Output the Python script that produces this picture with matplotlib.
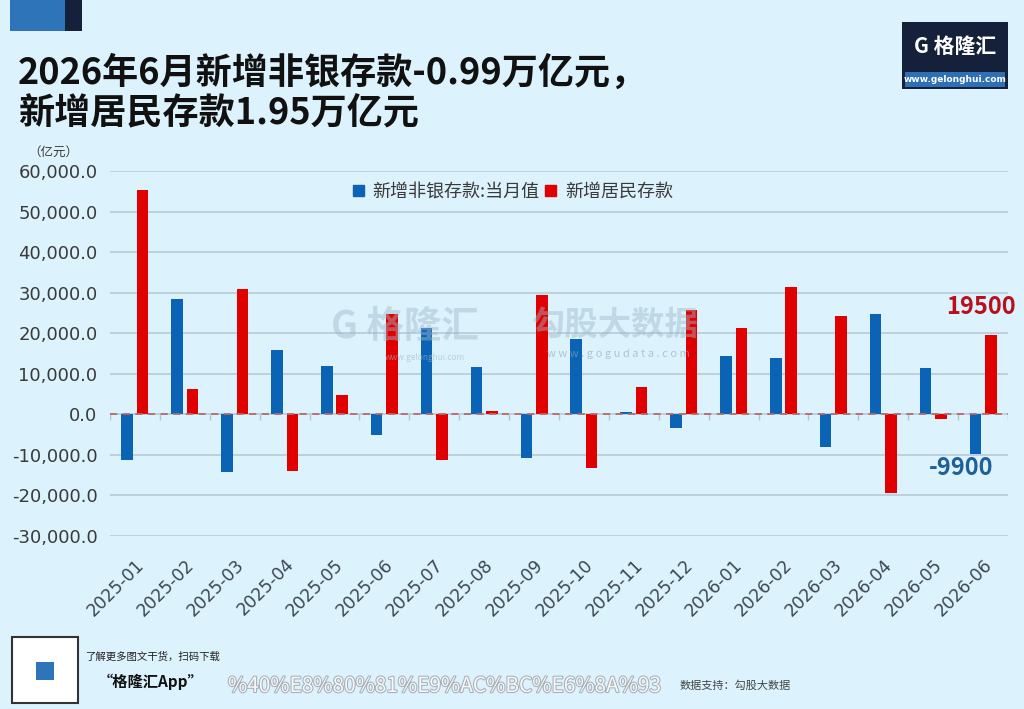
import numpy as np
import matplotlib.pyplot as plt
from matplotlib.patches import Patch, Rectangle
import matplotlib.patheffects as pe

plt.rcParams['font.family'] = ['Noto Sans CJK SC', 'DejaVu Sans']

# data (亿元)
months = ["2025-01", "2025-02", "2025-03", "2025-04", "2025-05", "2025-06",
          "2025-07", "2025-08", "2025-09", "2025-10", "2025-11", "2025-12",
          "2026-01", "2026-02", "2026-03", "2026-04", "2026-05", "2026-06"]
nonbank = [-11200, 28400, -14100, 15800, 12000, -5100, 21400, 11600, -10700,
           18500, 600, -3300, 14400, 13800, -8100, 24800, 11500, -9900]
household = [55300, 6200, 30900, -13900, 4700, 24800, -11200, 900, 29500,
             -13300, 6800, 25700, 21300, 31400, 24300, -19500, -1100, 19500]
yticks = list(range(-30000, 60001, 10000))

bg = "#dcf2fc"
blue = "#0b63b6"
red = "#e00000"
txt = "#3a3a3a"

fig = plt.figure(figsize=(10.24, 7.09), dpi=100, facecolor=bg)

# top-left decoration
fig.add_artist(Rectangle((10 / 1024, 1 - 31 / 709), 55 / 1024, 31 / 709,
                         transform=fig.transFigure, color="#2e74b8", lw=0))
fig.add_artist(Rectangle((65 / 1024, 1 - 31 / 709), 17 / 1024, 31 / 709,
                         transform=fig.transFigure, color="#15203a", lw=0))

# title
fig.text(18 / 1024, 1 - 73 / 709, "2026年6月新增非银存款-0.99万亿元，",
         fontsize=26, fontweight="bold", color="#111111", va="center",
         family=["Noto Sans CJK SC"])
fig.text(18 / 1024, 1 - 114 / 709, "新增居民存款1.95万亿元",
         fontsize=26, fontweight="bold", color="#111111", va="center",
         family=["Noto Sans CJK SC"])

# logo top-right
fig.add_artist(Rectangle((902 / 1024, 1 - 89 / 709), 106 / 1024, 67 / 709,
                         transform=fig.transFigure, color="#15203a", lw=0))
fig.add_artist(Rectangle((905 / 1024, 1 - 87 / 709), 100 / 1024, 15 / 709,
                         transform=fig.transFigure, color="#2e6fb6", lw=0))
fig.text(955 / 1024, 1 - 46 / 709, "G 格隆汇", fontsize=15, fontweight="bold",
         color="white", ha="center", va="center")
fig.text(955 / 1024, 1 - 80 / 709, "www.gelonghui.com", fontsize=6.5,
         fontweight="bold", color="white", ha="center", va="center",
         family=["DejaVu Sans"])

fig.text(28 / 1024, 1 - 152 / 709, "（亿元）", fontsize=9, color=txt,
         ha="left", va="center")

ax = fig.add_axes([110 / 1024, 173 / 709, 898 / 1024, 365 / 709])
ax.set_facecolor(bg)
x = np.arange(len(months))
ax.bar(x - 0.155, nonbank, 0.23, color=blue, zorder=3)
ax.bar(x + 0.155, household, 0.23, color=red, zorder=3)

ax.set_xlim(-0.5, len(months) - 0.5)
ax.set_ylim(-30000, 60000)
ax.set_yticks(yticks)
ax.set_yticklabels([f"{v:,.1f}" for v in yticks], family=["DejaVu Sans"],
                   fontsize=13, color=txt)
ax.grid(axis="y", color="#b7cad6", lw=1.2, zorder=0)
ax.axhline(0, color="#b86a6a", lw=1.3, ls=(0, (4, 3)), zorder=4)
ax.vlines(np.arange(-0.5, len(months)), -1500, 0, color="#b8c2cc", lw=1, zorder=1)
for s in ax.spines.values():
    s.set_visible(False)
ax.tick_params(axis="y", length=0, pad=9)
ax.tick_params(axis="x", length=0, pad=14)
ax.set_xticks(x)
ax.set_xticklabels(months, rotation=45, ha="right", rotation_mode="anchor",
                   family=["DejaVu Sans"], fontsize=12.5, color="#3c4654")

handles = [Patch(color=blue, label="新增非银存款:当月值"),
           Patch(color=red, label="新增居民存款")]
fig.legend(handles=handles, loc="center", bbox_to_anchor=(513 / 1024, 1 - 192 / 709),
           ncol=2, frameon=False, fontsize=13, handlelength=0.6, handleheight=0.6,
           handletextpad=0.5, columnspacing=0.3, labelcolor="#3a3a3a")

# end-point annotations
ax.annotate(f"{household[-1]}", xy=(x[-1] + 0.155, household[-1]), xytext=(-7, 20),
            textcoords="offset points", ha="center", va="center", fontsize=17,
            fontweight="bold", color="#b8101c", zorder=5)
ax.annotate(f"{nonbank[-1]}", xy=(x[-1] - 0.155, nonbank[-1]), xytext=(-10, -10),
            textcoords="offset points", ha="center", va="center", fontsize=17,
            fontweight="bold", color="#1f5f9a", zorder=5)

# watermarks
fig.text(405 / 1024, 1 - 326 / 709, "G 格隆汇", fontsize=27, fontweight="bold",
         color="#9fb8cc", alpha=0.45, ha="center", va="center")
fig.text(425 / 1024, 1 - 357 / 709, "www.gelonghui.com", fontsize=6,
         color="#9fb8cc", alpha=0.6, ha="center", va="center")
fig.text(615 / 1024, 1 - 325 / 709, "勾股大数据", fontsize=24, fontweight="bold",
         color="#9fb8cc", alpha=0.45, ha="center", va="center")
fig.text(618 / 1024, 1 - 354 / 709, "w w w . g o g u d a t a . c o m", fontsize=8,
         color="#8fa6b8", alpha=0.6, ha="center", va="center")

# footer
fig.add_artist(Rectangle((12 / 1024, 1 - 703 / 709), 66 / 1024, 66 / 709,
                         transform=fig.transFigure, facecolor="white",
                         edgecolor="#333333", lw=1.5))
fig.add_artist(Rectangle((36 / 1024, 1 - 680 / 709), 18 / 1024, 18 / 709,
                         transform=fig.transFigure, color="#2e74b8", lw=0))
fig.text(85 / 1024, 1 - 657 / 709, "了解更多图文干货，扫码下载", fontsize=7.5,
         style="italic", color="#222222", va="center")
fig.text(98 / 1024, 1 - 682 / 709, "“格隆汇App”", fontsize=11, fontweight="bold",
         style="italic", color="#111111", va="center")
fig.text(228 / 1024, 1 - 686 / 709, "%40%E8%80%81%E9%AC%BC%E6%8A%93", fontsize=15,
         color="white", alpha=0.9, va="center",
         path_effects=[pe.withStroke(linewidth=1.5, foreground="#a0a8b0")])
fig.text(680 / 1024, 1 - 686 / 709, "数据支持：勾股大数据", fontsize=8,
         color="#444444", va="center", zorder=0)

fig.savefig("out.png", dpi=100, facecolor=bg)
